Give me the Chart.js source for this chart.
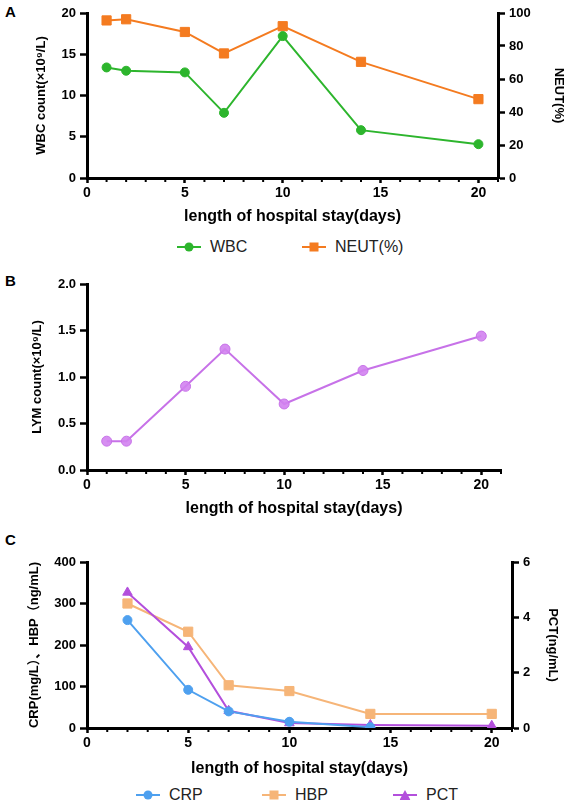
<!DOCTYPE html>
<html>
<head>
<meta charset="utf-8">
<script src="https://cdn.jsdelivr.net/npm/chart.js@4.4.1/dist/chart.umd.min.js"></script>
<style>
  body { margin: 0; background: #fff; }
  #wrap { position: relative; width: 566px; height: 804px; font-family: 'Liberation Sans', Arial, sans-serif; }
  canvas { position: absolute; left: 0; }
  .letter { position: absolute; left: 5px; font-weight: bold; font-size: 15px; line-height: 15px; color: #000; }
  .item { position: absolute; height: 20px; display: flex; align-items: center; font-size: 16px; color: #222; }
  .mk { position: relative; width: 24px; height: 20px; margin-right: 9px; }
  .mk .ln { position: absolute; left: 0; right: 0; top: 9px; height: 2px; }
  .mk .pt { position: absolute; left: 50%; top: 50%; transform: translate(-50%, -50%); }
  .circle { width: 9px; height: 9px; border-radius: 50%; }
  .square { width: 9px; height: 9px; }
  .tri { width: 11px; height: 10px; clip-path: polygon(50% 0, 100% 100%, 0 100%); }
</style>
</head>
<body>
<div id="wrap">
  <div class="letter" style="top:4px">A</div>
  <canvas id="chartA" width="566" height="226" style="top:0"></canvas>
  <div class="item" style="left:177px;top:237px"><div class="mk"><div class="ln" style="background:#2db52d"></div><div class="pt circle" style="background:#2db52d"></div></div>WBC</div>
  <div class="item" style="left:302px;top:237px"><div class="mk"><div class="ln" style="background:#f47b20"></div><div class="pt square" style="background:#f47b20"></div></div>NEUT(%)</div>

  <div class="letter" style="top:273px">B</div>
  <canvas id="chartB" width="566" height="246" style="top:272px"></canvas>

  <div class="letter" style="top:532px">C</div>
  <canvas id="chartC" width="566" height="248" style="top:530px"></canvas>
  <div class="item" style="left:136px;top:785px"><div class="mk"><div class="ln" style="background:#4ea0ef"></div><div class="pt circle" style="background:#4ea0ef"></div></div>CRP</div>
  <div class="item" style="left:262px;top:785px"><div class="mk"><div class="ln" style="background:#f6b578"></div><div class="pt square" style="background:#f6b578"></div></div>HBP</div>
  <div class="item" style="left:393px;top:785px"><div class="mk"><div class="ln" style="background:#b34fdc"></div><div class="pt tri" style="background:#b34fdc"></div></div>PCT</div>
</div>
<script>
// panel A
const daysA = [1, 2, 5, 7, 10, 14, 20];
const wbc = [13.4, 13.0, 12.8, 7.9, 17.2, 5.8, 4.1];
const neut = [95.5, 96.2, 88.5, 75.5, 92.0, 70.4, 47.8];
// panel B
const daysB = [1, 2, 5, 7, 10, 14, 20];
const lym = [0.31, 0.31, 0.90, 1.30, 0.71, 1.07, 1.44];
// panel C
const daysC = [2, 5, 7, 10, 14, 20];
const crp = [260, 92, 40, 15, 2];
const hbp = [300, 232, 103, 89, 34, 34];
const pct = [4.9, 2.93, 0.62, 0.18, 0.11, 0.08];

const xTitle = "length of hospital stay(days)";
const xMax = 21;

Chart.defaults.font.family = "'Liberation Sans', Arial, 'Noto Sans CJK SC', sans-serif";
Chart.defaults.color = "#000";

const pairs = (xs, ys) => ys.map((y, i) => ({ x: xs[i], y }));

// small ticks at every day on the x axis
const minorTicks = {
  id: "minorTicks",
  afterDraw(chart) {
    const sx = chart.scales.x;
    const ctx = chart.ctx;
    ctx.save();
    ctx.strokeStyle = "#000";
    ctx.lineWidth = 2;
    for (let v = 1; v <= xMax; v++) {
      if (v % 5 === 0) continue;
      const px = sx.getPixelForValue(v);
      ctx.beginPath();
      ctx.moveTo(px, sx.top);
      ctx.lineTo(px, sx.top + 4);
      ctx.stroke();
    }
    ctx.restore();
  }
};

function xAxis(height) {
  return {
    type: "linear",
    min: 0,
    max: xMax,
    border: { color: "#000", width: 3 },
    grid: { drawOnChartArea: false, tickLength: 5, tickWidth: 2.5, tickColor: "#000" },
    ticks: { stepSize: 5, includeBounds: false, padding: 2, font: { size: 14, weight: "bold" } },
    title: { display: true, text: xTitle, font: { size: 16, weight: "bold" }, padding: 0 },
    afterFit: s => { s.height = height; }
  };
}

function yAxis(pos, min, max, step, title, width, titlePad) {
  return {
    type: "linear",
    position: pos,
    min, max,
    border: { color: "#000", width: 3 },
    grid: { drawOnChartArea: false, tickLength: 7, tickWidth: 2.5, tickColor: "#000" },
    ticks: { stepSize: step, padding: 4, font: { size: 13, weight: "bold" } },
    title: { display: true, text: title, font: { size: 13, weight: "bold" }, padding: { top: titlePad, bottom: 0 } },
    afterFit: s => { s.width = width; }
  };
}

function lineSet(label, data, color, style, radius, axis, fill) {
  return {
    label,
    data,
    yAxisID: axis,
    borderColor: color,
    backgroundColor: fill || color,
    borderWidth: 2,
    pointStyle: style,
    pointRadius: radius,
    pointBorderWidth: 1,
    pointBorderColor: color,
    pointBackgroundColor: fill || color,
    tension: 0
  };
}

const common = {
  responsive: false,
  animation: false,
  devicePixelRatio: 1,
  plugins: { legend: { display: false }, tooltip: { enabled: false } }
};

new Chart(document.getElementById("chartA"), {
  type: "line",
  data: {
    datasets: [
      lineSet("WBC", pairs(daysA, wbc), "#2db52d", "circle", 4.5, "y"),
      lineSet("NEUT(%)", pairs(daysA, neut), "#f47b20", "rect", 6.5, "y1")
    ]
  },
  options: {
    ...common,
    layout: { padding: { top: 13, left: 0, right: 0, bottom: 0 } },
    scales: {
      x: xAxis(48),
      y: yAxis("left", 0, 20, 5, "WBC count(×10⁹/L)", 87, 34),
      y1: yAxis("right", 0, 100, 20, "NEUT(%)", 68, 0)
    }
  },
  plugins: [minorTicks]
});

const yB = yAxis("left", 0, 2, 0.5, "LYM count(×10⁹/L)", 87, 30);
yB.ticks.callback = v => v.toFixed(1);

new Chart(document.getElementById("chartB"), {
  type: "line",
  data: {
    datasets: [
      lineSet("LYM", pairs(daysB, lym), "#c772e8", "circle", 5, "y", "rgba(210,130,240,0.9)")
    ]
  },
  options: {
    ...common,
    layout: { padding: { top: 12, left: 0, right: 65, bottom: 0 } },
    scales: {
      x: xAxis(48),
      y: yB
    }
  },
  plugins: [minorTicks]
});

const crpSet = lineSet("CRP", pairs(daysC, crp), "#4ea0ef", "circle", 4.5, "y");
const hbpSet = lineSet("HBP", pairs(daysC, hbp), "#f6b578", "rect", 6.5, "y");
const pctSet = lineSet("PCT", pairs(daysC, pct), "#b34fdc", "triangle", 5.5, "y1");
crpSet.order = 0;
pctSet.order = 1;
hbpSet.order = 2;

const yC = yAxis("left", 0, 400, 100, "CRP(mg/L）、HBP（ng/mL)", 87, 27);
const y1C = yAxis("right", 0, 6, 2, "PCT(ng/mL)", 54, 6);

new Chart(document.getElementById("chartC"), {
  type: "line",
  data: { datasets: [crpSet, hbpSet, pctSet] },
  options: {
    ...common,
    layout: { padding: { top: 32, left: 0, right: 0, bottom: 0 } },
    scales: { x: xAxis(50), y: yC, y1: y1C }
  },
  plugins: [minorTicks]
});
</script>
</body>
</html>
